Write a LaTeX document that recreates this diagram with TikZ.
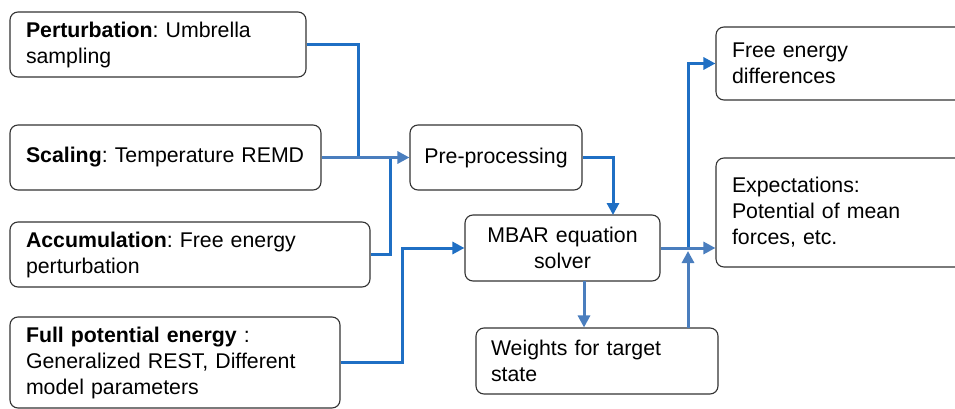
\documentclass[tikz,border=0pt]{standalone}
\usepackage{fontspec}
\setmainfont{Liberation Sans}
\usetikzlibrary{arrows.meta}
\definecolor{flowblue}{HTML}{1F6FC4}
\definecolor{steelflow}{HTML}{4A7EBE}
\tikzset{
  box/.style={draw=black!80, line width=1.1pt, rounded corners=8pt, inner ysep=4pt,
    inner xsep=16pt, align=left, font=\fontsize{21.3}{26}\selectfont\frenchspacing,
    anchor=center},
  cbox/.style={box, align=center},
  link/.style={flowblue, line width=3pt},
  slink/.style={steelflow, line width=3pt},
  tip/.style={-{Triangle[length=12pt,width=12pt]}},
}
\begin{document}
\begin{tikzpicture}[x=1pt,y=-1pt]
\useasboundingbox (0,0) rectangle (955,409);

% input boxes on the left
\node[box, text width=264pt, minimum height=65pt] (pert) at (158,44.5)
  {\mbox{\textbf{Perturbation}: Umbrella}\\sampling};
\node[box, text width=279pt, minimum height=65pt] (scal) at (165.5,157.5)
  {\mbox{\textbf{Scaling}: Temperature REMD}};
\node[box, text width=328pt, minimum height=65pt] (accu) at (190,254.5)
  {\mbox{\textbf{Accumulation}: Free energy}\\perturbation};
\node[box, text width=298pt, minimum height=91pt] (full) at (175,362.5)
  {\mbox{\textbf{Full potential energy} :}\\\mbox{Generalized REST, Different}\\\mbox{model parameters}};

% processing stages
\node[cbox, inner xsep=6pt, text width=160pt, minimum height=65pt] (prep) at (496,157.5)
  {\mbox{Pre-processing}};
\node[cbox, inner xsep=6pt, text width=183pt, minimum height=66pt] (mbar) at (562.5,248)
  {\mbox{MBAR equation}\\solver};
\node[box, inner xsep=15pt, text width=212pt, minimum height=66pt] (wts) at (597,361)
  {\mbox{Weights for target}\\state};

% outputs on the right
\node[box, text width=217pt, minimum height=73pt] (fed) at (840.5,63.5)
  {\mbox{Free energy}\\differences};
\node[box, text width=217pt, minimum height=109pt] (expt) at (840.5,212.5)
  {\mbox{Expectations:}\\\mbox{Potential of mean}\\\mbox{forces, etc.}};

% junction points of the connectors
\coordinate (jpert) at (358,157.5);
\coordinate (jaccu) at (390,157.5);
\coordinate (jfull) at (402,248);
\coordinate (jprep) at (613,215);
\coordinate (jout)  at (688,248);
\coordinate (jdown) at (584,281);
\coordinate (jup)   at (688,328);

% connectors
\draw[link] (pert.east) -| (jpert);
\draw[link] (accu.east) -| (jaccu);
\draw[slink, tip] (scal.east) -- (prep.west);
\draw[link, tip] (full.east) -| (jfull) -- (mbar.west);
\draw[link, tip] (prep.east) -| (jprep);
\draw[link, tip] (jout) |- (fed.west);
\draw[slink, tip] (mbar.east) -- (mbar.east -| expt.west);
\draw[slink, tip] (jdown) -- (jdown |- wts.north);
\draw[slink, tip] (jup) -- ([yshift=-3pt]jout);
\end{tikzpicture}
\end{document}
